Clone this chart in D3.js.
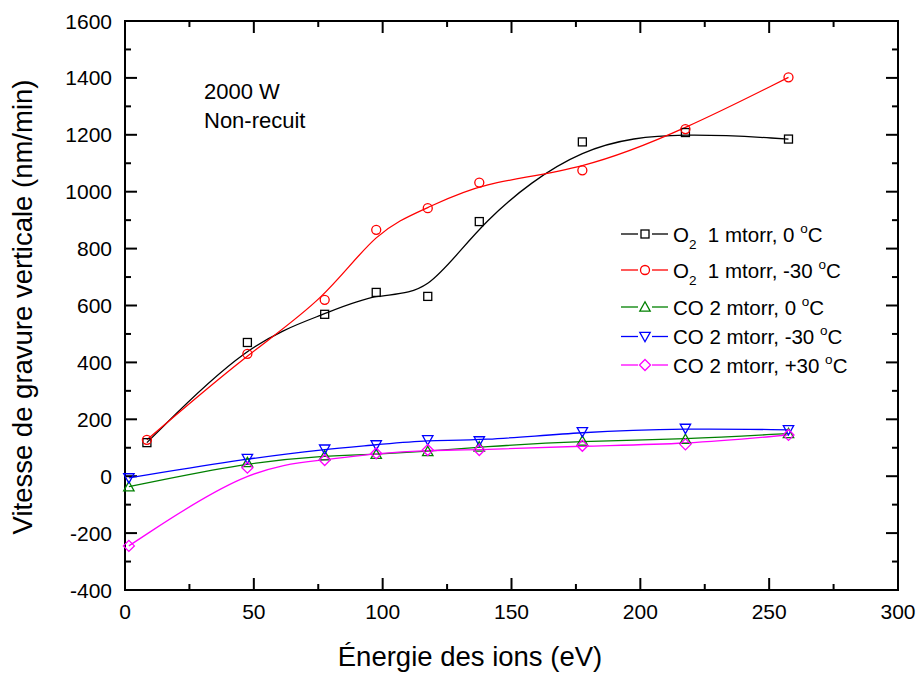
<!DOCTYPE html>
<html><head><meta charset="utf-8">
<script src="https://cdn.jsdelivr.net/npm/d3@7"></script>
<style>body{margin:0;background:#fff}svg{display:block}text{font-family:"Liberation Sans",Arial,sans-serif}</style>
</head><body>
<svg id="c" width="922" height="674"></svg>
<script>
// ---- data ----
const xO2 = [8.5, 47.5, 77.5, 97.5, 117.5, 137.5, 177.5, 217.5, 257.5];
const xCO = [1.5, 47.5, 77.5, 97.5, 117.5, 137.5, 177.5, 217.5, 257.5];
const o2_0 = [118, 470, 569, 646, 632, 895, 1175, 1208, 1185];
const o2_m30 = [128, 430, 620, 866, 942, 1032, 1075, 1220, 1402];
const co_0 = [-37, 48, 72, 77, 87, 103, 124, 130, 150];
const co_m30 = [-6, 62, 95, 110, 128, 124, 156, 168, 163];
const co_p30 = [-245, 30, 57, 80, 92, 92, 107, 112, 145];
const xTicks = [0, 50, 100, 150, 200, 250, 300];
const yTicks = [-400, -200, 0, 200, 400, 600, 800, 1000, 1200, 1400, 1600];
const legendLabels = [
  {main:"O", sub:"2", rest:"  1 mtorr, 0 "},
  {main:"O", sub:"2", rest:"  1 mtorr, -30 "},
  {main:"CO 2 mtorr, 0 ", sub:null, rest:""},
  {main:"CO 2 mtorr, -30 ", sub:null, rest:""},
  {main:"CO 2 mtorr, +30 ", sub:null, rest:""}
];
const seriesColors = ["#000000", "#ff0000", "#008000", "#0000ff", "#ff00ff"];
const seriesSymbols = ["square", "circle", "up", "down", "diamond"];
const annotation = ["2000 W", "Non-recuit"];
const xTitle = "Énergie des ions (eV)";
const yTitle = "Vitesse de gravure verticale (nm/min)";

const series = [
  {x: xO2, y: o2_0}, {x: xO2, y: o2_m30},
  {x: xCO, y: co_0}, {x: xCO, y: co_m30}, {x: xCO, y: co_p30}
];

// ---- layout ----
const L = 125, R = 898, T = 21, B = 590;
const svg = d3.select("#c");
const x = d3.scaleLinear().domain([0, 300]).range([L, R]);
const y = d3.scaleLinear().domain([-400, 1600]).range([B, T]);

// ticks (inward, mirrored)
const g = svg.append("g");
const majL = 12, minL = 6;
const xMinor = d3.range(25, 300, 50);
const yMinor = d3.range(-300, 1600, 200);
function tickLines(vals, len, isX) {
  vals.forEach(v => {
    if (isX) {
      const px = x(v);
      g.append("line").attr("x1", px).attr("x2", px).attr("y1", B).attr("y2", B - len);
      g.append("line").attr("x1", px).attr("x2", px).attr("y1", T).attr("y2", T + len);
    } else {
      const py = y(v);
      g.append("line").attr("y1", py).attr("y2", py).attr("x1", L).attr("x2", L + len);
      g.append("line").attr("y1", py).attr("y2", py).attr("x1", R).attr("x2", R - len);
    }
  });
}
tickLines(xTicks, majL, true);
tickLines(xMinor, minL, true);
tickLines(yTicks, majL, false);
tickLines(yMinor, minL, false);
g.selectAll("line").attr("stroke", "#000").attr("stroke-width", 2);

// frame
svg.append("rect").attr("x", L).attr("y", T).attr("width", R - L).attr("height", B - T)
  .attr("fill", "none").attr("stroke", "#000").attr("stroke-width", 2);

// tick labels
svg.append("g").selectAll("text").data(xTicks).join("text")
  .attr("x", d => x(d)).attr("y", B + 29).attr("text-anchor", "middle")
  .attr("font-size", 21).text(d => d);
svg.append("g").selectAll("text").data(yTicks).join("text")
  .attr("x", L - 13).attr("y", d => y(d) + 7.5).attr("text-anchor", "end")
  .attr("font-size", 21).text(d => d);

// axis titles
svg.append("text").attr("x", 470).attr("y", 666).attr("text-anchor", "middle")
  .attr("font-size", 27.5).text(xTitle);
svg.append("text").attr("transform", "translate(32,307) rotate(-90)").attr("text-anchor", "middle")
  .attr("font-size", 27.5).text(yTitle);

// symbols
function drawSymbol(sel, type, cx, cy, color) {
  const s = 4;
  if (type === "square") {
    sel.append("rect").attr("x", cx - s).attr("y", cy - s).attr("width", 2 * s).attr("height", 2 * s)
      .attr("fill", "none").attr("stroke", color).attr("stroke-width", 1.3);
  } else if (type === "circle") {
    sel.append("circle").attr("cx", cx).attr("cy", cy).attr("r", 4.5)
      .attr("fill", "none").attr("stroke", color).attr("stroke-width", 1.3);
  } else if (type === "up") {
    const h = 5.2;
    sel.append("path").attr("d", `M${cx},${cy - h}L${cx + h},${cy + h * 0.8}L${cx - h},${cy + h * 0.8}Z`)
      .attr("fill", "none").attr("stroke", color).attr("stroke-width", 1.3);
  } else if (type === "down") {
    const h = 5.2;
    sel.append("path").attr("d", `M${cx},${cy + h}L${cx + h},${cy - h * 0.8}L${cx - h},${cy - h * 0.8}Z`)
      .attr("fill", "none").attr("stroke", color).attr("stroke-width", 1.3);
  } else if (type === "diamond") {
    const h = 5.5;
    sel.append("path").attr("d", `M${cx},${cy - h}L${cx + h},${cy}L${cx},${cy + h}L${cx - h},${cy}Z`)
      .attr("fill", "none").attr("stroke", color).attr("stroke-width", 1.3);
  }
}

// series (B-spline smoothing, as in the original)
const line = d3.line().x(d => x(d[0])).y(d => y(d[1])).curve(d3.curveBasis);
const plot = svg.append("g");
series.forEach((s, i) => {
  const pts = s.x.map((xv, j) => [xv, s.y[j]]);
  plot.append("path").attr("d", line(pts)).attr("fill", "none")
    .attr("stroke", seriesColors[i]).attr("stroke-width", 1.3);
});
series.forEach((s, i) => {
  const gg = plot.append("g");
  s.x.forEach((xv, j) => drawSymbol(gg, seriesSymbols[i], x(xv), y(s.y[j]), seriesColors[i]));
});

// annotation
annotation.forEach((t, i) => {
  svg.append("text").attr("x", 204).attr("y", 99 + i * 28.5).attr("font-size", 22).text(t);
});

// legend
const legY = [234, 270, 307, 336.5, 365];
const lg = svg.append("g");
legendLabels.forEach((lab, i) => {
  const ly = legY[i], c = seriesColors[i];
  lg.append("line").attr("x1", 621).attr("x2", 638).attr("y1", ly).attr("y2", ly).attr("stroke", c).attr("stroke-width", 1.3);
  lg.append("line").attr("x1", 652).attr("x2", 668).attr("y1", ly).attr("y2", ly).attr("stroke", c).attr("stroke-width", 1.3);
  drawSymbol(lg, seriesSymbols[i], 645, ly, c);
  const t = lg.append("text").attr("x", 673).attr("y", ly + 7.5).attr("font-size", 20.5).attr("xml:space", "preserve");
  t.append("tspan").text(lab.main);
  if (lab.sub) t.append("tspan").attr("font-size", 13.5).attr("dy", 7).text(lab.sub);
  if (lab.sub) t.append("tspan").attr("dy", -7).text(lab.rest);
  t.append("tspan").attr("font-size", 13.5).attr("dy", -9).text("o");
  t.append("tspan").attr("dy", 9).text("C");
});
</script>
</body></html>
